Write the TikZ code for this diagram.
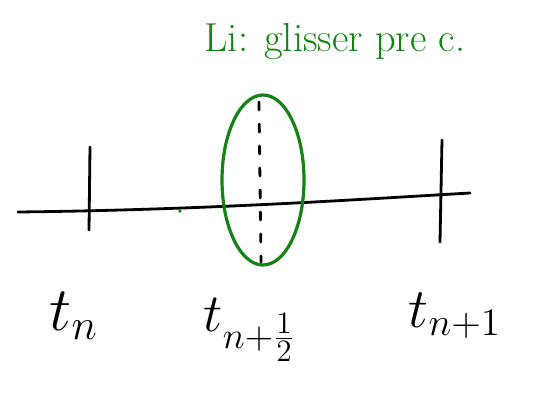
\documentclass[tikz,border=0pt]{standalone}
\usepackage{graphicx}
\usetikzlibrary{shapes.geometric}
\definecolor{pen}{RGB}{20,130,20}
\begin{document}
\begin{tikzpicture}[x=1pt,y=-1pt,
  ink/.style={line width=2.8pt,line cap=round,line join=round},
  lbl/.style={inner sep=0pt}]
\useasboundingbox (0,0) rectangle (544,395);
% axis
\coordinate (a0) at (18,212);
\coordinate (a1) at (470,193);
\draw[ink] (a0) .. controls (200,210) and (350,200) .. (a1);
% ticks
\coordinate (t1a) at (90,147); \coordinate (t1b) at (89,230);
\coordinate (t2a) at (442,140); \coordinate (t2b) at (440,242);
\draw[ink] (t1a) -- (t1b);
\draw[ink] (t2a) -- (t2b);
% dashed middle
\coordinate (m0) at (259,102); \coordinate (m1) at (261,262);
\draw[ink,dash pattern=on 8pt off 14pt] (m0) -- (m1);
% green ellipse
\node[draw=pen,line width=3.2pt,ellipse,minimum width=82pt,minimum height=170pt,inner sep=0pt] (ell) at (263,180) {};
\fill[pen] (180,211) circle (1.8pt);
% labels
\node[lbl] (ln) at (74,316) {\scalebox{3}{\huge$t_n$}};
\node[lbl] (lh) at (250,330) {\scalebox{2.6}{\huge$t_{n+\frac12}$}};
\node[lbl] (lp) at (455,316) {\scalebox{2.7}{\huge$t_{n+1}$}};
\node[text=pen,inner sep=0pt] (txt) at (335,42) {\scalebox{1.95}{\huge Li: glisser pre c.}};
\end{tikzpicture}
\end{document}
